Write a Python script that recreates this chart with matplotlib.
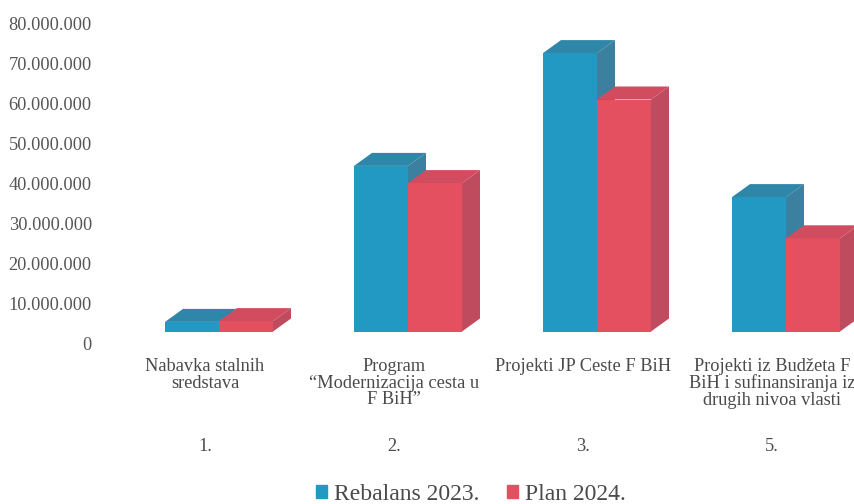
#!/usr/bin/python3
# -*- coding: utf-8 -*-

import matplotlib
matplotlib.use('Agg')
import matplotlib.pyplot as pl
from matplotlib.patches import Patch, Polygon
from matplotlib.transforms import ScaledTranslation

categories = ['Nabavka stalnih\nsredstava',
              'Program\n“Modernizacija cesta u\nF BiH”',
              'Projekti JP Ceste F BiH',
              'Projekti iz Budžeta F\nBiH i sufinansiranja iz\ndrugih nivoa vlasti']
numbers = ['1.', '2.', '3.', '5.']
rebalans_2023 = [2400000, 41400000, 69600000, 33600000]
plan_2024 = [2600000, 37100000, 58000000, 23300000]
y_ticks = [0, 10000000, 20000000, 30000000, 40000000, 50000000, 60000000, 70000000, 80000000]

PX = 1.0 / 100
WIDTH = 854
HEIGHT = 504
BASE = 331.5          # pixel row of the bar feet
PX_PER_X = 189.0      # one category
PX_PER_Y = 4e-6       # pixels per unit of value
BAR = 54 / PX_PER_X
DX = 18 / PX_PER_X
DY = 13 / PX_PER_Y
TEXT_COLOR = '#4a4a4a'


def bar_3d(ax, x, value, front, top, side):
    ax.bar(x, value, BAR, align='edge', color=front, linewidth=0, zorder=3)
    ax.add_patch(Polygon([(x, value), (x + BAR, value), (x + BAR + DX, value + DY), (x + DX, value + DY)],
                         closed=True, color=top, linewidth=0, zorder=3, clip_on=False))
    ax.add_patch(Polygon([(x + BAR, 0), (x + BAR + DX, DY), (x + BAR + DX, value + DY), (x + BAR, value)],
                         closed=True, color=side, linewidth=0, zorder=3, clip_on=False))


pl.rcParams['font.family'] = ['Liberation Serif', 'DejaVu Serif']

fig = pl.figure(figsize=(WIDTH * PX, HEIGHT * PX), dpi=100)
left = 96
ax = fig.add_axes([left / WIDTH, (HEIGHT - BASE) / HEIGHT, 1 - left / WIDTH, BASE / HEIGHT])

for spine in ax.spines.values():
    spine.set_visible(False)

for i in range(len(categories)):
    bar_3d(ax, i - BAR, rebalans_2023[i], '#2299c3', '#2e86a8', '#3b809e')
    bar_3d(ax, i, plan_2024[i], '#e4505f', '#d14c5f', '#bf4b5f')

ax.set_yticks(y_ticks)
ax.set_yticklabels(['{:,}'.format(v).replace(',', '.') for v in y_ticks], fontsize=13.2, color='#555555')
ax.tick_params(axis='y', length=0, pad=3)
# the value labels sit lower than the bar feet in the original
shift = ScaledTranslation(0, -11.5 / 100, fig.dpi_scale_trans)
for label in ax.get_yticklabels():
    label.set_transform(label.get_transform() + shift)

ax.set_xticks(range(len(categories)))
ax.set_xticklabels(categories, fontsize=13.2, color=TEXT_COLOR, linespacing=0.98)
ax.tick_params(axis='x', length=0, pad=19)
# the category labels sit left of the bars
x_shift = ScaledTranslation(-14 / 100, 0, fig.dpi_scale_trans)
for label in ax.get_xticklabels():
    label.set_transform(label.get_transform() + x_shift)

for i, number in enumerate(numbers):
    ax.annotate(number, (i, 0), xytext=(-14 * 0.72, -115 * 0.72), xycoords=('data', 'axes fraction'),
                textcoords='offset points', ha='center', va='center', fontsize=13.2, color=TEXT_COLOR)

ax.set_xlim(-(219 - left) / PX_PER_X, (WIDTH - 219) / PX_PER_X)
ax.set_ylim(0, BASE / PX_PER_Y)

handles = [Patch(color='#2299c3', label='Rebalans 2023.'), Patch(color='#e4505f', label='Plan 2024.')]
fig.legend(handles=handles, loc='lower center', bbox_to_anchor=(471 / WIDTH, -0.034), ncol=2, frameon=False,
           fontsize=17, labelcolor=TEXT_COLOR, handlelength=0.46, handleheight=0.46, handletextpad=0.3,
           columnspacing=1.19, borderpad=0.2)

fig.savefig('out.png', dpi=100)
